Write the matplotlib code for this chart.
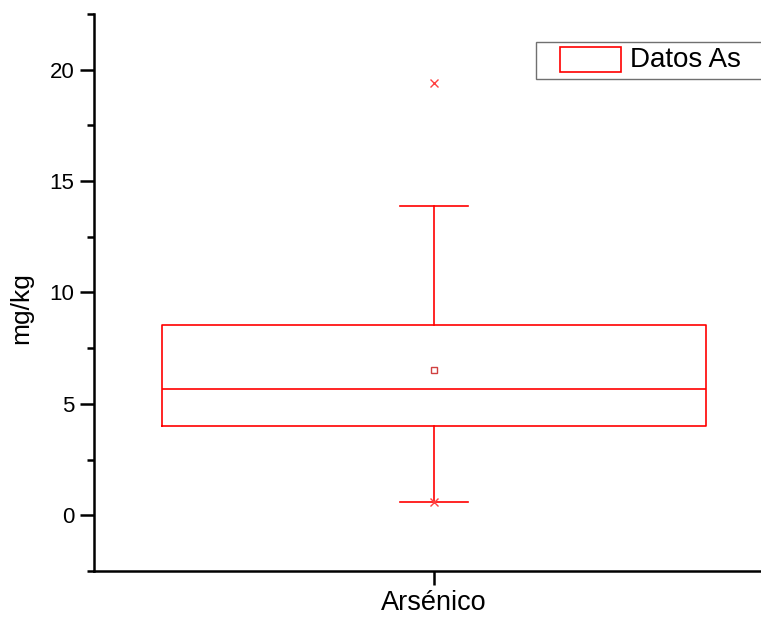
import matplotlib.pyplot as plt
from matplotlib.patches import Rectangle

plt.rcParams['font.family'] = ['Liberation Sans', 'DejaVu Sans']

# box statistics (mg/kg)
category = 'Arsénico'
legend_label = 'Datos As'
q1 = 4.0
median = 5.66
q3 = 8.55
mean = 6.5
whisker_low = 0.58
whisker_high = 13.9
outliers = [19.4, 0.58]
ytick_values = [0, 5, 10, 15, 20]

stats = [{
    'label': category,
    'q1': q1, 'med': median, 'q3': q3, 'mean': mean,
    'whislo': whisker_low, 'whishi': whisker_high,
    'fliers': outliers,
}]

W, H = 761, 618
fig = plt.figure(figsize=(W / 100, H / 100), dpi=100)
ax = fig.add_axes([94 / W, 47 / H, 680 / W, 557 / H])

red = '#ff0000'
ax.bxp(stats, positions=[1], widths=0.8, showmeans=True, showfliers=True,
       boxprops=dict(color=red, linewidth=1.2),
       medianprops=dict(color=red, linewidth=1.2),
       whiskerprops=dict(color=red, linewidth=1.2),
       capprops=dict(color=red, linewidth=1.2),
       capwidths=0.1,
       meanprops=dict(marker='s', markersize=5, markerfacecolor='none',
                      markeredgecolor='#d04040', markeredgewidth=1.0),
       flierprops=dict(marker='x', markersize=6, markeredgecolor='#ff4040',
                       markeredgewidth=1.0))

ax.set_xlim(0.5, 1.5)
ax.set_ylim(-2.5, 22.5)
ax.set_yticks(ytick_values)
ax.set_yticks([-2.5, 2.5, 7.5, 12.5, 17.5, 22.5], minor=True)
ax.set_xticks([1])
ax.set_xticklabels([category])

for side in ['top', 'right']:
    ax.spines[side].set_visible(False)
for side in ['left', 'bottom']:
    ax.spines[side].set_linewidth(1.8)

ax.tick_params(axis='both', which='major', direction='out', length=10, width=1.8,
               labelsize=16, pad=4)
ax.tick_params(axis='y', which='minor', direction='out', length=5, width=1.8)
ax.tick_params(axis='x', labelsize=19.5, pad=4)
ax.set_ylabel('mg/kg', fontsize=19)
ax.yaxis.set_label_coords(-0.09, 0.472)

# legend box drawn in figure pixels (it runs off the right edge like the original)
def px(x, y):
    return x / W, 1 - y / H

fx, fy = px(536, 79)
fig.add_artist(Rectangle((fx, fy), 240 / W, 37 / H, transform=fig.transFigure,
                         facecolor='white', edgecolor='#707070', linewidth=1.0,
                         clip_on=False))
hx, hy = px(560, 72)
fig.add_artist(Rectangle((hx, hy), 61 / W, 25 / H, transform=fig.transFigure,
                         facecolor='white', edgecolor=red, linewidth=1.2))
tx, ty = px(630, 60)
fig.text(tx, ty, legend_label, fontsize=20, va='center', ha='left')

fig.savefig('out.png', dpi=100)
